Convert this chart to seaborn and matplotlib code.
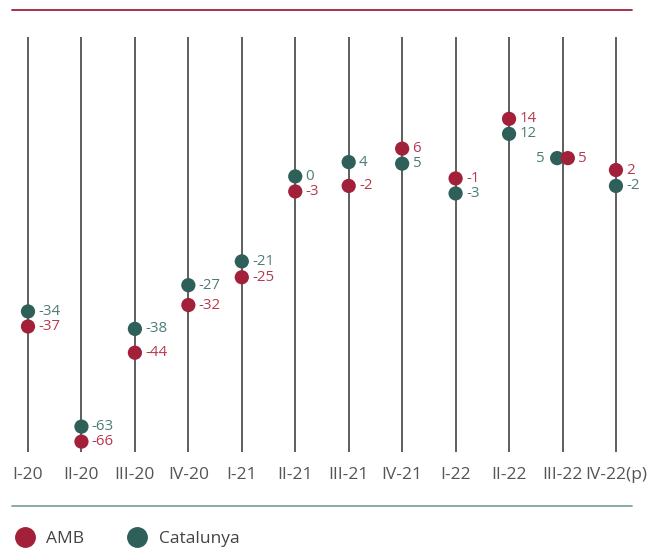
import pandas as pd
import matplotlib.pyplot as plt
from matplotlib.lines import Line2D
import seaborn as sns
import numpy as np

quarters = ['I-20', 'II-20', 'III-20', 'IV-20', 'I-21', 'II-21', 'III-21', 'IV-21',
            'I-22', 'II-22', 'III-22', 'IV-22(p)']
amb = [-37, -66, -44, -32, -25, -3, -2, 6, -1, 14, 5, 2]
catalunya = [-34, -63, -38, -27, -21, 0, 4, 5, -3, 12, 5, -2]

RED = '#a3203a'
TEAL = '#2e5f58'
RED_TXT = '#b8394f'
TEAL_TXT = '#4d7c76'

sns.set_style('white')
plt.rcParams['font.family'] = ['Open Sans', 'DejaVu Sans']

fig = plt.figure(figsize=(6.62, 5.49), dpi=100)
ax = fig.add_axes([0, 0.1767, 1, 0.7559])
ymin, ymax = -69, 35.5
units_per_px = (ymax - ymin) / (0.7559 * 549)

# push dots of the same quarter apart when they would overlap (min ~15 px)
idx = np.arange(len(quarters))
a = np.array(amb, float)
c = np.array(catalunya, float)
same = a == c
gap = 15 * units_per_px
a_plot, c_plot = a.copy(), c.copy()
for i in idx:
    d = abs(a[i] - c[i])
    if 0 < d < gap:
        push = (gap - d) / 2
        sign = 1 if a[i] > c[i] else -1
        a_plot[i] += sign * push
        c_plot[i] -= sign * push

# Catalunya rows first so AMB dots are drawn on top
df = pd.concat([
    pd.DataFrame({'x': idx - 0.1 * same, 'y': c_plot, 'value': catalunya, 'serie': 'Catalunya'}),
    pd.DataFrame({'x': idx + 0.1 * same, 'y': a_plot, 'value': amb, 'serie': 'AMB'}),
], ignore_index=True)

ax.vlines(idx, ymin, ymax, color='#333333', lw=1.1, zorder=1)

sns.scatterplot(data=df, x='x', y='y', hue='serie', hue_order=['AMB', 'Catalunya'],
                palette={'AMB': RED, 'Catalunya': TEAL}, s=105, linewidth=0,
                legend=False, ax=ax, zorder=3)

for _, r in df.iterrows():
    left = r['serie'] == 'Catalunya' and r['x'] < round(r['x'])
    ax.annotate(f"{r['value']:d}", (r['x'], r['y']),
                xytext=(-9 if left else 7.5, 0), textcoords='offset points',
                ha='right' if left else 'left', va='center', fontsize=10.8,
                color=RED_TXT if r['serie'] == 'AMB' else TEAL_TXT)

ax.set_ylim(ymin, ymax)
ax.set_xlim(-28 / 53.45, (662 - 28) / 53.45)
ax.set_xticks(idx)
ax.set_xticklabels(quarters, fontsize=12.5, color='#555555')
ax.tick_params(axis='x', length=0, pad=11)
ax.set_yticks([])
ax.set_xlabel('')
ax.set_ylabel('')
sns.despine(ax=ax, left=True, bottom=True)

fig.add_artist(Line2D([12 / 662, 632 / 662], [1 - 10 / 549] * 2, color=RED, lw=1.3))
fig.add_artist(Line2D([12 / 662, 632 / 662], [1 - 506 / 549] * 2, color='#7fa5a0', lw=1.3))

handles = [Line2D([], [], marker='o', ls='', markersize=14, color=RED, label='AMB'),
           Line2D([], [], marker='o', ls='', markersize=14, color=TEAL, label='Catalunya')]
leg = fig.legend(handles=handles, loc='center left', bbox_to_anchor=(0.004, 10 / 549), ncol=2,
                 frameon=False, fontsize=12.5, handletextpad=0.22, columnspacing=2.05,
                 borderaxespad=0, borderpad=0.3)
for t in leg.get_texts():
    t.set_color('#444444')

fig.savefig('out.png', dpi=100)
